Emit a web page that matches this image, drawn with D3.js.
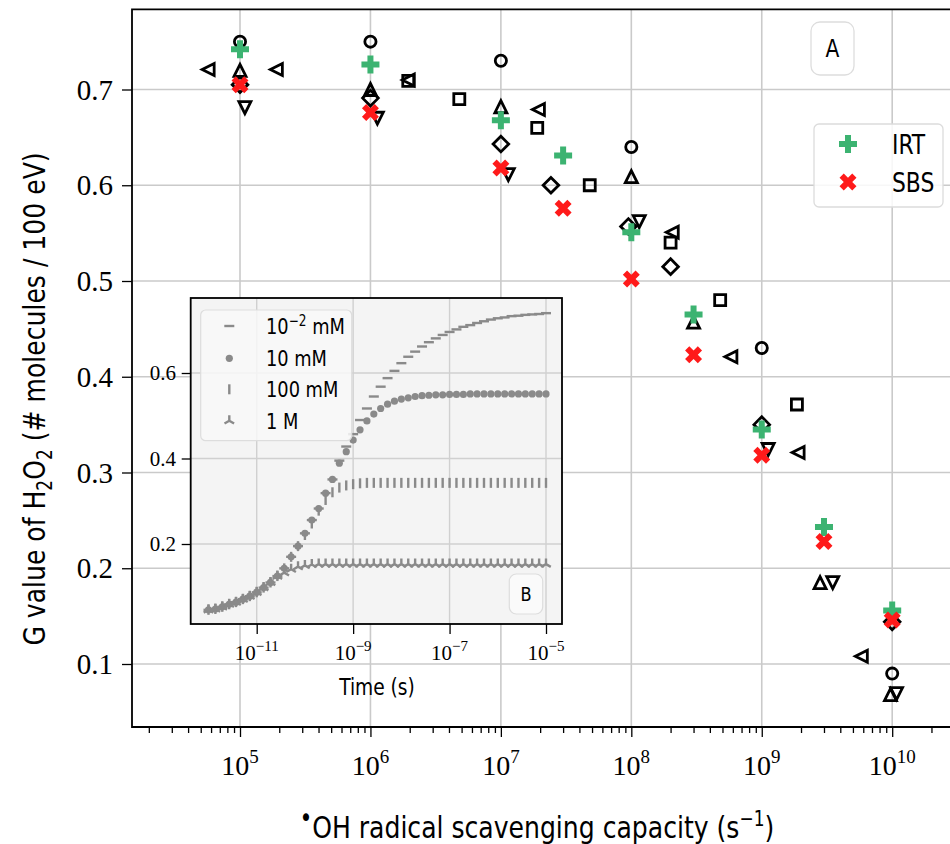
<!DOCTYPE html>
<html>
<head>
<meta charset="utf-8">
<script src="https://cdn.jsdelivr.net/npm/d3@7"></script>
<style>
  body { margin: 0; background: #fff; }
  svg { display: block; }
  .sans { font-family: 'DejaVu Sans Condensed', 'Liberation Sans Narrow', 'DejaVu Sans', sans-serif; font-stretch: condensed; }
  .serif { font-family: 'Liberation Serif', 'DejaVu Serif', serif; }
</style>
</head>
<body>
<svg id="chart" width="950" height="844"></svg>
<script>
// ---- main panel (A): G value vs OH scavenging capacity, [capacity s^-1, G]
const irt      = [[1e5,0.742],[1e6,0.726],[1e7,0.668],[3e7,0.631],[1e8,0.551],[3e8,0.465],[1e9,0.345],[3e9,0.243],[1e10,0.156]];
const sbs      = [[1e5,0.705],[1e6,0.676],[1e7,0.618],[3e7,0.576],[1e8,0.502],[3e8,0.423],[1e9,0.318],[3e9,0.228],[1e10,0.146]];
const expCircle  = [[1e5,0.750],[1e6,0.750],[1e7,0.730],[1e8,0.640],[1e9,0.430],[1e10,0.090]];
const expTriUp   = [[1e5,0.720],[1e6,0.700],[1e7,0.682],[1e8,0.609],[3e8,0.457],[2.8e9,0.185],[0.97e10,0.068]];
const expTriDown = [[1.09e5,0.681],[1.13e6,0.670],[1.14e7,0.611],[1.15e8,0.562],[1.12e9,0.324],[3.5e9,0.185],[1.08e10,0.069]];
const expTriLeft = [[5.7e4,0.721],[1.9e5,0.721],[1.95e6,0.710],[1.94e7,0.679],[2.06e8,0.551],[5.8e8,0.421],[1.9e9,0.321],[5.8e9,0.108]];
const expSquare  = [[1.95e6,0.709],[4.8e6,0.690],[1.9e7,0.660],[4.8e7,0.600],[2e8,0.540],[4.8e8,0.480],[1.86e9,0.371]];
const expDiamond = [[1e5,0.705],[1e6,0.691],[1e7,0.643],[2.42e7,0.600],[0.95e8,0.557],[2e8,0.515],[1e9,0.350],[1e10,0.144]];

const xTickExps = [5, 6, 7, 8, 9, 10];
const yTicks = [0.1, 0.2, 0.3, 0.4, 0.5, 0.6, 0.7];

// ---- inset (B): G(t) for four scavenger concentrations
const timeExps = [-12,-11.857,-11.714,-11.571,-11.429,-11.286,-11.143,-11,-10.857,-10.714,
  -10.571,-10.429,-10.286,-10.143,-10,-9.857,-9.714,-9.571,-9.429,-9.286,
  -9.143,-9,-8.857,-8.714,-8.571,-8.429,-8.286,-8.143,-8,-7.857,
  -7.714,-7.571,-7.429,-7.286,-7.143,-7,-6.857,-6.714,-6.571,-6.429,
  -6.286,-6.143,-6,-5.857,-5.714,-5.571,-5.429,-5.286,-5.143,-5];
const g001mM = [0.046,0.048,0.053,0.059,0.064,0.071,0.078,0.087,0.098,0.110,
  0.125,0.143,0.170,0.195,0.225,0.256,0.283,0.319,0.351,0.395,
  0.428,0.457,0.490,0.517,0.545,0.568,0.588,0.605,0.623,0.638,
  0.650,0.662,0.672,0.681,0.689,0.696,0.702,0.708,0.712,0.717,
  0.721,0.725,0.728,0.730,0.733,0.734,0.736,0.737,0.738,0.740];
const g10mM = [0.046,0.048,0.053,0.059,0.064,0.071,0.078,0.087,0.098,0.110,
  0.125,0.143,0.170,0.195,0.225,0.256,0.283,0.319,0.351,0.389,
  0.416,0.443,0.467,0.488,0.504,0.517,0.527,0.534,0.539,0.542,
  0.545,0.547,0.548,0.549,0.549,0.550,0.550,0.550,0.551,0.551,
  0.551,0.551,0.551,0.551,0.551,0.551,0.551,0.551,0.551,0.551];
const g100mM = [0.046,0.048,0.053,0.059,0.064,0.071,0.078,0.087,0.098,0.110,
  0.125,0.143,0.170,0.195,0.221,0.248,0.278,0.303,0.321,0.332,
  0.337,0.340,0.342,0.343,0.343,0.343,0.343,0.343,0.343,0.343,
  0.343,0.343,0.343,0.343,0.343,0.343,0.343,0.343,0.343,0.343,
  0.343,0.343,0.343,0.343,0.343,0.343,0.343,0.343,0.343,0.343];
const g1M = [0.046,0.048,0.053,0.059,0.064,0.071,0.078,0.087,0.098,0.110,
  0.125,0.133,0.141,0.147,0.150,0.152,0.153,0.153,0.153,0.153,
  0.153,0.153,0.153,0.153,0.153,0.153,0.153,0.153,0.153,0.153,
  0.153,0.153,0.153,0.153,0.153,0.153,0.153,0.153,0.153,0.153,
  0.153,0.153,0.153,0.153,0.153,0.153,0.153,0.153,0.153,0.153];
const insetXTickExps = [-11, -9, -7, -5];
const insetYTicks = [0.2, 0.4, 0.6];

const svg = d3.select("#chart");

// main axes frame
const L = 132, T = 9.3, B = 727, R = 960;
const x = d3.scaleLog().domain([1.486e4, 3.31e10]).range([L, R]);
const y = d3.scaleLinear().domain([0.1, 0.7]).range([664, 89.5]);

const gridColor = "#cacaca";
svg.append("g").selectAll("line").data(xTickExps).enter().append("line")
  .attr("x1", d => x(Math.pow(10, d))).attr("x2", d => x(Math.pow(10, d)))
  .attr("y1", T).attr("y2", B).attr("stroke", gridColor).attr("stroke-width", 1.6);
svg.append("g").selectAll("line").data(yTicks).enter().append("line")
  .attr("x1", L).attr("x2", R).attr("y1", d => y(d)).attr("y2", d => y(d))
  .attr("stroke", gridColor).attr("stroke-width", 1.6);

// x ticks (major + minor)
const minor = [];
for (let k = 4; k <= 10; k++) for (let m = 2; m <= 9; m++) {
  const v = m * Math.pow(10, k);
  if (v > x.domain()[0] && v < x.domain()[1]) minor.push(v);
}
const xAxisMinor = d3.axisBottom(x).tickValues(minor).tickSize(6).tickFormat("");
const xAxisMajor = d3.axisBottom(x).tickValues(xTickExps.map(e => Math.pow(10, e))).tickSize(10).tickFormat("");
[xAxisMinor, xAxisMajor].forEach(ax => {
  const g = svg.append("g").attr("transform", `translate(0,${B})`).call(ax);
  g.select(".domain").remove();
  g.selectAll("line").attr("stroke", "#000").attr("stroke-width", 1.3);
});
const yAxis = d3.axisLeft(y).tickValues(yTicks).tickSize(10).tickFormat("");
const gy = svg.append("g").attr("transform", `translate(${L},0)`).call(yAxis);
gy.select(".domain").remove();
gy.selectAll("line").attr("stroke", "#000").attr("stroke-width", 1.3);

// tick labels
svg.append("g").selectAll("text").data(yTicks).enter().append("text")
  .attr("class", "serif").attr("x", 113).attr("y", d => y(d)).attr("dy", "0.35em")
  .attr("text-anchor", "end").attr("font-size", 29).text(d => d.toFixed(1));
const xl = svg.append("g").selectAll("text").data(xTickExps).enter().append("text")
  .attr("class", "serif").attr("x", d => x(Math.pow(10, d))).attr("y", 775)
  .attr("text-anchor", "middle").attr("font-size", 28);
xl.append("tspan").text("10");
xl.append("tspan").attr("dy", -12).attr("font-size", 19).text(d => d);

// frame
svg.append("path").attr("d", `M${R},${T}H${L}V${B}H${R}`)
  .attr("fill", "none").attr("stroke", "#000").attr("stroke-width", 1.8);

// marker shapes
function plusPath(w) {
  const t = w / 3;
  return `M${-t},${-w}H${t}V${-t}H${w}V${t}H${t}V${w}H${-t}V${t}H${-w}V${-t}H${-t}Z`;
}
const shapes = {
  circle: "M5.6,0A5.6,5.6 0 1,1 -5.6,0A5.6,5.6 0 1,1 5.6,0Z",
  triUp: "M0,-6L6,6L-6,6Z",
  triDown: "M0,6L6,-6L-6,-6Z",
  triLeft: "M-6,0L6,-6L6,6Z",
  square: "M-5.5,-5.5H5.5V5.5H-5.5Z",
  diamond: "M0,-7.8L7.8,0L0,7.8L-7.8,0Z",
  plus: plusPath(9)
};

const blackSets = [
  [expCircle, "circle"], [expTriUp, "triUp"], [expTriDown, "triDown"],
  [expTriLeft, "triLeft"], [expSquare, "square"], [expDiamond, "diamond"]
];
blackSets.forEach(([data, shape]) => {
  svg.append("g").selectAll("path").data(data).enter().append("path")
    .attr("transform", d => `translate(${x(d[0])},${y(d[1])})`)
    .attr("d", shapes[shape]).attr("fill", "none")
    .attr("stroke", "#000").attr("stroke-width", 2.8);
});
svg.append("g").selectAll("path").data(irt).enter().append("path")
  .attr("transform", d => `translate(${x(d[0])},${y(d[1])})`)
  .attr("d", shapes.plus).attr("fill", "#3cb371");
svg.append("g").selectAll("path").data(sbs).enter().append("path")
  .attr("transform", d => `translate(${x(d[0])},${y(d[1])}) rotate(45)`)
  .attr("d", shapes.plus).attr("fill", "#ff1a1a");

// legend A
const lg = svg.append("g");
lg.append("rect").attr("x", 814).attr("y", 124).attr("width", 129).attr("height", 83)
  .attr("rx", 5).attr("fill", "#fff").attr("fill-opacity", 0.85).attr("stroke", "#dcdcdc").attr("stroke-width", 1.3);
lg.append("path").attr("transform", "translate(848,144)").attr("d", shapes.plus).attr("fill", "#3cb371");
lg.append("path").attr("transform", "translate(848,182) rotate(45)").attr("d", shapes.plus).attr("fill", "#ff1a1a");
lg.append("text").attr("class", "sans").attr("transform", "translate(892,144) scale(0.9,1)").attr("dy", "0.36em")
  .attr("font-size", 27).text("IRT");
lg.append("text").attr("class", "sans").attr("transform", "translate(892,182) scale(0.9,1)").attr("dy", "0.36em")
  .attr("font-size", 27).text("SBS");

// panel tag A
svg.append("rect").attr("x", 811).attr("y", 22).attr("width", 43).attr("height", 53)
  .attr("rx", 9).attr("fill", "#fff").attr("stroke", "#dddddd").attr("stroke-width", 1.3);
svg.append("text").attr("class", "sans").attr("transform", "translate(832.5,48) scale(0.9,1)").attr("dy", "0.36em")
  .attr("text-anchor", "middle").attr("font-size", 25).text("A");

// axis titles
const yt = svg.append("text").attr("class", "sans").attr("font-size", 31)
  .attr("transform", "translate(45,399) rotate(-90) scale(0.9,1)").attr("text-anchor", "middle");
yt.append("tspan").text("G value of H");
yt.append("tspan").attr("dy", 7).attr("font-size", 21).text("2");
yt.append("tspan").attr("dy", -7).text("O");
yt.append("tspan").attr("dy", 7).attr("font-size", 21).text("2");
yt.append("tspan").attr("dy", -7).text(" (# molecules / 100 eV)");

const xt = svg.append("text").attr("class", "sans").attr("font-size", 31)
  .attr("transform", "translate(537,838) scale(0.9,1)").attr("text-anchor", "middle");
xt.append("tspan").attr("dy", -11).attr("font-size", 26).text("•");
xt.append("tspan").attr("dy", 11).text("OH radical scavenging capacity (s");
xt.append("tspan").attr("dy", -12).attr("font-size", 21).text("−1");
xt.append("tspan").attr("dy", 12).text(")");

// ---- inset B
const iL = 190.7, iR = 562, iT = 298, iB = 624;
const ix = d3.scaleLog().domain([1e-11, 1e-5]).range([256.7, 546]);
const iy = d3.scaleLinear().domain([0.2, 0.6]).range([544, 373]);
const ins = svg.append("g");
ins.append("rect").attr("x", iL).attr("y", iT).attr("width", iR - iL).attr("height", iB - iT).attr("fill", "#f4f4f4");
ins.append("g").selectAll("line").data(insetXTickExps).enter().append("line")
  .attr("x1", d => ix(Math.pow(10, d))).attr("x2", d => ix(Math.pow(10, d)))
  .attr("y1", iT).attr("y2", iB).attr("stroke", "#d0d0d0").attr("stroke-width", 1.4);
ins.append("g").selectAll("line").data(insetYTicks).enter().append("line")
  .attr("x1", iL).attr("x2", iR).attr("y1", d => iy(d)).attr("y2", d => iy(d))
  .attr("stroke", "#d0d0d0").attr("stroke-width", 1.4);

const ixAxis = d3.axisBottom(ix).tickValues(insetXTickExps.map(e => Math.pow(10, e))).tickSize(10).tickFormat("");
const gix = ins.append("g").attr("transform", `translate(0,${iB})`).call(ixAxis);
gix.select(".domain").remove();
gix.selectAll("line").attr("stroke", "#000").attr("stroke-width", 1.3);
const iyAxis = d3.axisLeft(iy).tickValues(insetYTicks).tickSize(9).tickFormat("");
const giy = ins.append("g").attr("transform", `translate(${iL},0)`).call(iyAxis);
giy.select(".domain").remove();
giy.selectAll("line").attr("stroke", "#000").attr("stroke-width", 1.3);

ins.append("g").selectAll("text").data(insetYTicks).enter().append("text")
  .attr("class", "serif").attr("x", 176).attr("y", d => iy(d)).attr("dy", "0.35em")
  .attr("text-anchor", "end").attr("font-size", 21).text(d => d.toFixed(1));
const ixl = ins.append("g").selectAll("text").data(insetXTickExps).enter().append("text")
  .attr("class", "serif").attr("x", d => ix(Math.pow(10, d))).attr("y", 660)
  .attr("text-anchor", "middle").attr("font-size", 21);
ixl.append("tspan").text("10");
ixl.append("tspan").attr("dy", -9).attr("font-size", 15).text(d => "−" + Math.abs(d));
ins.append("text").attr("class", "sans").attr("transform", "translate(377,695) scale(0.9,1)")
  .attr("text-anchor", "middle").attr("font-size", 23).text("Time (s)");

const grey = "#8a8a8a";
const insetMarks = {
  hline: "M-5,0H5",
  dot: "M3.6,0A3.6,3.6 0 1,1 -3.6,0A3.6,3.6 0 1,1 3.6,0Z",
  vline: "M0,-5V5",
  tri: "M0,0V-5.5M0,0L-4.8,2.8M0,0L4.8,2.8"
};
const insetSeries = [
  { vals: g001mM, mark: "hline", label: ["10", "−2", " mM"] },
  { vals: g10mM, mark: "dot", label: ["10 mM"] },
  { vals: g100mM, mark: "vline", label: ["100 mM"] },
  { vals: g1M, mark: "tri", label: ["1 M"] }
];
function drawMark(sel, mark) {
  sel.attr("d", insetMarks[mark])
    .attr("fill", mark === "dot" ? grey : "none")
    .attr("stroke", grey).attr("stroke-width", mark === "dot" ? 0 : 2.4);
}
insetSeries.forEach(s => {
  ins.append("g").selectAll("path").data(s.vals).enter().append("path")
    .attr("transform", (d, i) => `translate(${ix(Math.pow(10, timeExps[i]))},${iy(d)})`)
    .call(drawMark, s.mark);
});

// inset legend
ins.append("rect").attr("x", 200.7).attr("y", 310).attr("width", 151).attr("height", 130.7)
  .attr("rx", 5).attr("fill", "#f8f8f8").attr("fill-opacity", 0.85)
  .attr("stroke", "#dddddd").attr("stroke-width", 1.2);
const legY = [326, 358.3, 389.3, 420.7];
insetSeries.forEach((s, i) => {
  ins.append("path").attr("transform", `translate(229.3,${legY[i]})`).call(drawMark, s.mark);
  const t = ins.append("text").attr("class", "sans")
    .attr("transform", `translate(266,${legY[i]}) scale(0.9,1)`)
    .attr("dy", "0.36em").attr("font-size", 22);
  if (s.label.length === 3) {
    t.append("tspan").text(s.label[0]);
    t.append("tspan").attr("dy", -8).attr("font-size", 15).text(s.label[1]);
    t.append("tspan").attr("dy", 8).text(s.label[2]);
  } else {
    t.text(s.label[0]);
  }
});

// panel tag B
ins.append("rect").attr("x", 509.3).attr("y", 574).attr("width", 33.4).attr("height", 40)
  .attr("rx", 7).attr("fill", "#fafafa").attr("stroke", "#dddddd").attr("stroke-width", 1.2);
ins.append("text").attr("class", "sans").attr("transform", "translate(526,594) scale(0.9,1)").attr("dy", "0.36em")
  .attr("text-anchor", "middle").attr("font-size", 20).text("B");

ins.append("rect").attr("x", iL).attr("y", iT).attr("width", iR - iL).attr("height", iB - iT)
  .attr("fill", "none").attr("stroke", "#000").attr("stroke-width", 1.8);
</script>
</body>
</html>
